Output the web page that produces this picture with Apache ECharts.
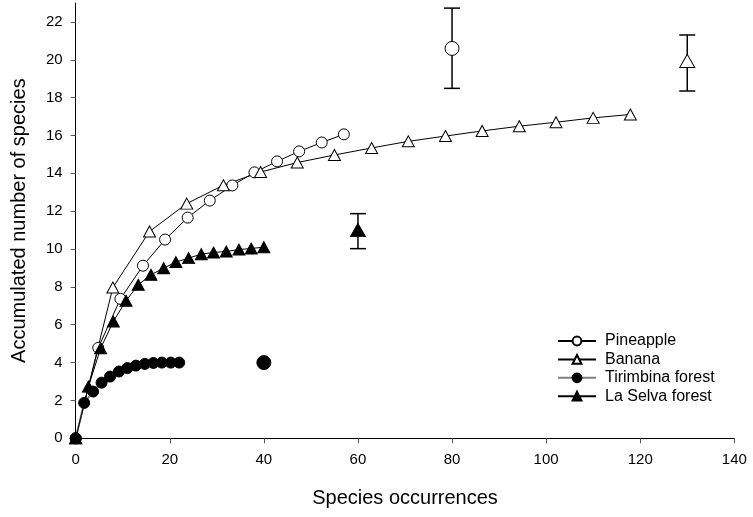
<!DOCTYPE html>
<html>
<head>
<meta charset="utf-8">
<script src="https://cdn.jsdelivr.net/npm/echarts@6/dist/echarts.min.js"></script>
<style>html,body{margin:0;padding:0;background:#fff;}#c{width:753px;height:517px;}</style>
</head>
<body>
<div id="c"></div>
<script>
// Accumulation curves
const pineappleX = [0, 4.8, 9.5, 14.3, 19.0, 23.8, 28.5, 33.3, 38.0, 42.8, 47.5, 52.3, 57.0];
const pineappleY = [0, 4.78, 7.37, 9.12, 10.5, 11.66, 12.56, 13.36, 14.05, 14.63, 15.16, 15.63, 16.06];

const bananaX = [0, 7.9, 15.7, 23.6, 31.4, 39.3, 47.1, 55.0, 62.9, 70.7, 78.6, 86.4, 94.3, 102.1, 110.0, 117.9];
const bananaY = [0, 7.97, 10.93, 12.4, 13.37, 14.07, 14.57, 14.97, 15.34, 15.69, 15.97, 16.24, 16.49, 16.7, 16.93, 17.11];

const tirimbinaX = [0, 1.8, 3.7, 5.5, 7.3, 9.2, 11.0, 12.8, 14.7, 16.5, 18.3, 20.2, 22.0];
const tirimbinaY = [0, 1.87, 2.47, 2.94, 3.26, 3.53, 3.71, 3.84, 3.93, 3.98, 4.0, 4.0, 4.0];

const laSelvaX = [0, 2.7, 5.3, 8.0, 10.7, 13.3, 16.0, 18.7, 21.3, 24.0, 26.7, 29.3, 32.0, 34.7, 37.3, 40.0];
const laSelvaY = [0, 2.73, 4.76, 6.17, 7.27, 8.11, 8.64, 8.99, 9.31, 9.52, 9.73, 9.82, 9.87, 9.97, 10.03, 10.1];

// Estimated totals with error bars: [x, y, low, high]
const pineappleEst = [80, 20.6, 18.49, 22.73];
const bananaEst = [130, 19.94, 18.35, 21.31];
const laSelvaEst = [60, 11.0, 10.02, 11.87];
const tirimbinaEst = [40, 4.0, 4.0, 4.0];

const seriesNames = ['Pineapple', 'Banana', 'Tirimbina forest', 'La Selva forest'];
const yTicks = [0, 2, 4, 6, 8, 10, 12, 14, 16, 18, 20, 22];

const FONT = 'Liberation Sans, Arial, sans-serif';
const zip = (xs, ys) => xs.map((x, i) => [x, ys[i]]);

const openStyle = { color: '#fff', borderColor: '#000', borderWidth: 1, opacity: 1 };
const filledStyle = { color: '#000', borderColor: '#000', borderWidth: 1, opacity: 1 };

function lineSeries(name, xs, ys, symbol, size, itemStyle, lineColor, lineWidth) {
  return {
    name, type: 'line', data: zip(xs, ys), symbol, symbolSize: size,
    itemStyle, lineStyle: { color: lineColor, width: lineWidth },
    z: 3, animation: false
  };
}
function pointSeries(est, symbol, size, itemStyle) {
  return {
    type: 'scatter', data: [[est[0], est[1]]], symbol, symbolSize: size,
    itemStyle, z: 5, animation: false
  };
}

const chart = echarts.init(document.getElementById('c'), null, { renderer: 'canvas' });
chart.setOption({
  backgroundColor: '#fff',
  animation: false,
  textStyle: { fontFamily: FONT },
  grid: { left: 75.7, right: 18.7, top: 3, bottom: 78.7 },
  xAxis: {
    type: 'value', min: 0, max: 140, interval: 20,
    name: 'Species occurrences', nameLocation: 'middle', nameGap: 50,
    nameTextStyle: { fontSize: 20, color: '#000', fontFamily: FONT },
    axisLine: { show: true, lineStyle: { color: '#000', width: 1 } },
    axisTick: { show: true, length: 5, inside: false, lineStyle: { color: '#555' } },
    axisLabel: { fontSize: 15, color: '#000', margin: 14, fontFamily: FONT },
    splitLine: { show: false }
  },
  yAxis: {
    type: 'value', min: 0, max: 23,
    name: 'Accumulated number of species', nameLocation: 'middle', nameGap: 46,
    nameTextStyle: { fontSize: 20, color: '#000', fontFamily: FONT },
    axisLine: { show: true, lineStyle: { color: '#000', width: 1 } },
    axisTick: { show: true, length: 5, inside: false, customValues: yTicks, lineStyle: { color: '#555' } },
    axisLabel: { fontSize: 15, color: '#000', margin: 13, customValues: yTicks, fontFamily: FONT },
    splitLine: { show: false }
  },
  legend: {
    data: seriesNames, orient: 'vertical', left: 552, top: 328,
    itemWidth: 38, itemHeight: 11, itemGap: 2.4,
    textStyle: { fontSize: 16, color: '#000', fontFamily: FONT, padding: [0, 0, 0, 4] }
  },
  series: [
    lineSeries('Pineapple', pineappleX, pineappleY, 'circle', 11, openStyle, '#000', 1),
    lineSeries('Banana', bananaX, bananaY, 'triangle', [12, 11], openStyle, '#000', 1),
    lineSeries('Tirimbina forest', tirimbinaX, tirimbinaY, 'circle', 11, filledStyle, '#808080', 2),
    lineSeries('La Selva forest', laSelvaX, laSelvaY, 'triangle', [12, 11], filledStyle, '#000', 1),
    {
      type: 'custom', z: 4, animation: false,
      data: [pineappleEst, bananaEst, laSelvaEst].map(e => [e[0], e[2], e[3]]),
      encode: { x: 0, y: [1, 2] },
      renderItem: function (params, api) {
        const x = api.value(0);
        const top = api.coord([x, api.value(2)]);
        const bot = api.coord([x, api.value(1)]);
        const w = 8;
        const st = { stroke: '#000', lineWidth: 1.5 };
        return {
          type: 'group', children: [
            { type: 'line', shape: { x1: top[0], y1: top[1], x2: bot[0], y2: bot[1] }, style: st },
            { type: 'line', shape: { x1: top[0] - w, y1: top[1], x2: top[0] + w, y2: top[1] }, style: st },
            { type: 'line', shape: { x1: bot[0] - w, y1: bot[1], x2: bot[0] + w, y2: bot[1] }, style: st }
          ]
        };
      }
    },
    pointSeries(pineappleEst, 'circle', 14, openStyle),
    pointSeries(bananaEst, 'triangle', [15, 13], openStyle),
    pointSeries(laSelvaEst, 'triangle', [15, 13], filledStyle),
    pointSeries(tirimbinaEst, 'circle', 14, filledStyle)
  ]
});
</script>
</body>
</html>
